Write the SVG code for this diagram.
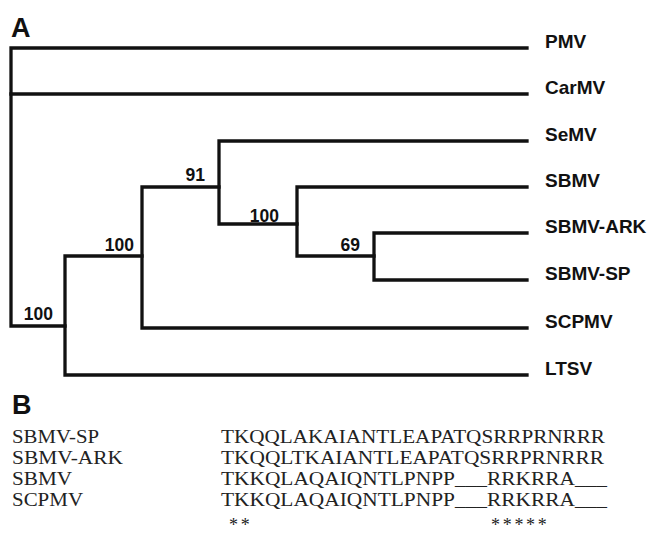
<svg xmlns="http://www.w3.org/2000/svg" width="648" height="543" viewBox="0 0 648 543">
<style>
.br{fill:none;stroke:#111;stroke-width:3.3;stroke-linejoin:miter;stroke-linecap:square}
.leaf{font-family:"Liberation Sans",Arial,sans-serif;font-weight:bold;font-size:19px;fill:#111}
.bs{font-family:"Liberation Sans",Arial,sans-serif;font-weight:bold;font-size:17.5px;fill:#111;text-anchor:end}
.panel{font-family:"Liberation Sans",Arial,sans-serif;font-weight:bold;font-size:27px;fill:#111}
.seq{font-family:"Liberation Serif","Times New Roman",serif;font-size:19px;fill:#222}
.ast{font-family:"Liberation Serif","Times New Roman",serif;font-size:18px;fill:#222;letter-spacing:-0.9px}
</style>
<rect width="648" height="543" fill="#fff"/>
<text class="panel" x="11" y="37">A</text>
<g id="connectors">
<path class="br" d="M527,48 H11 V326 H65"/>
<path class="br" d="M11,94 H527"/>
<path class="br" d="M142,256 H65 V375 H527"/>
<path class="br" d="M219,187 H142 V328 H527"/>
<path class="br" d="M527,141 H219 V224 H297"/>
<path class="br" d="M527,187 H297 V256 H374"/>
<path class="br" d="M527,233 H374 V280 H527"/>
</g>
<g id="leaf-PMV"><text class="leaf" x="545" y="48">PMV</text></g>
<g id="leaf-CarMV"><text class="leaf" x="545" y="94">CarMV</text></g>
<g id="leaf-SeMV"><text class="leaf" x="545" y="141">SeMV</text></g>
<g id="leaf-SBMV"><text class="leaf" x="545" y="187">SBMV</text></g>
<g id="leaf-SBMV-ARK"><text class="leaf" x="545" y="233">SBMV-ARK</text></g>
<g id="leaf-SBMV-SP"><text class="leaf" x="545" y="280">SBMV-SP</text></g>
<g id="leaf-SCPMV"><text class="leaf" x="545" y="328">SCPMV</text></g>
<g id="leaf-LTSV"><text class="leaf" x="545" y="375">LTSV</text></g>
<g id="bootstrap-91"><text class="bs" x="205" y="181">91</text></g>
<g id="bootstrap-100a"><text class="bs" x="279" y="222">100</text></g>
<g id="bootstrap-69"><text class="bs" x="360" y="251">69</text></g>
<g id="bootstrap-100b"><text class="bs" x="134" y="251">100</text></g>
<g id="bootstrap-100c"><text class="bs" x="53" y="320">100</text></g>
<text class="panel" x="12" y="414">B</text>
<g id="alignment">
<text class="seq" x="12" y="443" textLength="87" lengthAdjust="spacingAndGlyphs">SBMV-SP</text>
<text class="seq" x="12" y="464" textLength="111" lengthAdjust="spacingAndGlyphs">SBMV-ARK</text>
<text class="seq" x="12" y="485" textLength="60" lengthAdjust="spacingAndGlyphs">SBMV</text>
<text class="seq" x="12" y="506" textLength="71" lengthAdjust="spacingAndGlyphs">SCPMV</text>
<text class="seq" x="221" y="443" textLength="384" lengthAdjust="spacingAndGlyphs">TKQQLAKAIANTLEAPATQSRRPRNRRR</text>
<text class="seq" x="221" y="464" textLength="383" lengthAdjust="spacingAndGlyphs">TKQQLTKAIANTLEAPATQSRRPRNRRR</text>
<text class="seq" x="221" y="485" textLength="386" lengthAdjust="spacingAndGlyphs">TKKQLAQAIQNTLPNPP___RRKRRA___</text>
<text class="seq" x="221" y="506" textLength="386" lengthAdjust="spacingAndGlyphs">TKKQLAQAIQNTLPNPP___RRKRRA___</text>
<text class="ast" x="229" y="531">* *</text>
<text class="ast" x="491" y="531">* * * * *</text>
</g>
</svg>
